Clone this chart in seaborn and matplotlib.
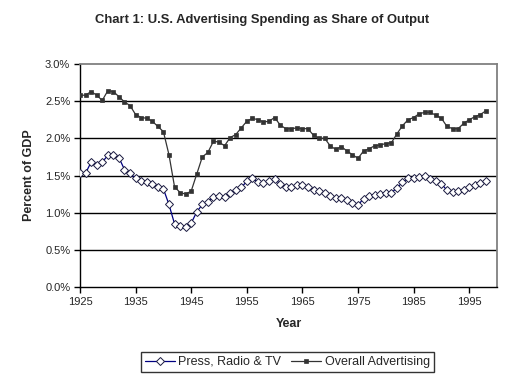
import matplotlib
matplotlib.use("Agg")
import matplotlib.pyplot as plt
import seaborn as sns
import pandas as pd
import numpy as np
from matplotlib.ticker import FuncFormatter

years = list(range(1925, 1999))

press = [1.53, 1.53, 1.68, 1.64, 1.68, 1.77, 1.77, 1.74, 1.58, 1.53,
         1.46, 1.42, 1.41, 1.38, 1.35, 1.32, 1.11, 0.85, 0.82, 0.81,
         0.86, 1.01, 1.11, 1.15, 1.21, 1.23, 1.21, 1.27, 1.30, 1.34,
         1.42, 1.46, 1.41, 1.40, 1.43, 1.45, 1.39, 1.35, 1.34, 1.37,
         1.37, 1.35, 1.31, 1.29, 1.27, 1.23, 1.20, 1.20, 1.17, 1.13,
         1.10, 1.19, 1.23, 1.24, 1.25, 1.26, 1.27, 1.33, 1.41, 1.46,
         1.47, 1.48, 1.49, 1.45, 1.42, 1.39, 1.30, 1.28, 1.29, 1.31,
         1.35, 1.37, 1.40, 1.43]

overall = [2.58, 2.58, 2.63, 2.58, 2.51, 2.64, 2.63, 2.56, 2.49, 2.44,
           2.32, 2.28, 2.27, 2.23, 2.16, 2.09, 1.78, 1.35, 1.27, 1.25,
           1.29, 1.52, 1.75, 1.81, 1.96, 1.95, 1.90, 2.01, 2.05, 2.14,
           2.23, 2.27, 2.25, 2.22, 2.23, 2.28, 2.18, 2.13, 2.13, 2.14,
           2.13, 2.13, 2.04, 2.00, 2.00, 1.90, 1.85, 1.89, 1.83, 1.78,
           1.73, 1.83, 1.86, 1.90, 1.91, 1.93, 1.94, 2.06, 2.17, 2.25,
           2.28, 2.33, 2.35, 2.35, 2.31, 2.27, 2.16, 2.13, 2.13, 2.20,
           2.25, 2.29, 2.32, 2.37]

labels = ["Press, Radio & TV", "Overall Advertising"]
title = "Chart 1: U.S. Advertising Spending as Share of Output"
xticks = [1925, 1935, 1945, 1955, 1965, 1975, 1985, 1995]
yticks = [0.0, 0.5, 1.0, 1.5, 2.0, 2.5, 3.0]

sns.set_theme(style="white")
plt.rcParams["font.family"] = ["Liberation Sans", "DejaVu Sans"]

fig = plt.figure(figsize=(5.29, 3.83), dpi=100)
ax = fig.add_axes([80/529, 1-287/383, (497-80)/529, (287-64)/383])

df_p = pd.DataFrame({"Year": years, "Value": press})
df_o = pd.DataFrame({"Year": years, "Value": overall})

sns.lineplot(data=df_p, x="Year", y="Value", ax=ax, color="#000080", lw=0.9,
             marker="D", markersize=4.2, markerfacecolor="white",
             markeredgecolor="#1a1a40", markeredgewidth=0.7, label=labels[0], zorder=3)
sns.lineplot(data=df_o, x="Year", y="Value", ax=ax, color="#333333", lw=0.9,
             marker="s", markersize=3.3, markerfacecolor="#333333",
             markeredgecolor="#333333", markeredgewidth=0.5, label=labels[1], zorder=3)

ax.set_xlim(1925, 2000)
ax.set_ylim(0, 3.0)
ax.set_xticks(xticks)
ax.set_yticks(yticks)
ax.yaxis.set_major_formatter(FuncFormatter(lambda v, p: f"{v:.1f}%"))
for y in yticks[1:-1]:
    ax.axhline(y, color="black", lw=1.0, zorder=1)

for s in ["left", "bottom"]:
    ax.spines[s].set_color("black")
    ax.spines[s].set_linewidth(1.0)
for s in ["top", "right"]:
    ax.spines[s].set_color("#808080")
    ax.spines[s].set_linewidth(1.3)

ax.tick_params(axis="both", which="major", direction="out", length=4, width=1,
               color="black", labelsize=8, pad=3, bottom=True, left=True)

ax.set_xlabel("Year", fontsize=9, fontweight="bold", labelpad=8)
ax.set_ylabel("Percent of GDP", fontsize=9, fontweight="bold", labelpad=7)
fig.text(262/529, 1-20/383, title, fontsize=9.4, fontweight="bold",
         ha="center", va="center")

leg = ax.legend(loc="center", bbox_to_anchor=(287.5/529, 1-362/383),
                bbox_transform=fig.transFigure, ncol=2, frameon=True,
                fontsize=9, fancybox=False, borderpad=0.3, handlelength=2.4,
                handletextpad=0.3, columnspacing=0.8, borderaxespad=0)
leg.get_frame().set_edgecolor("black")
leg.get_frame().set_linewidth(1.0)

fig.savefig("out.png", dpi=100)
